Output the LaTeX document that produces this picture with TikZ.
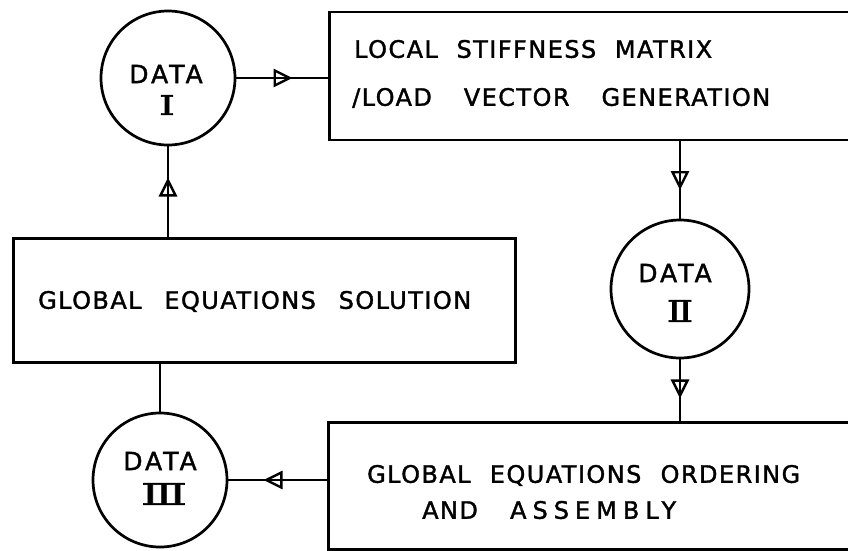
\documentclass[tikz,border=0pt]{standalone}
\usepackage{fontspec}
\usepackage{graphicx}
\newfontfamily\handfont{DejaVu Sans}[LetterSpace=6,FakeBold=1.5]
\newfontfamily\handwide{DejaVu Sans}[LetterSpace=25,FakeBold=1.5]
\newfontfamily\datafont{DejaVu Sans}[LetterSpace=12,FakeBold=1.5]
\newfontfamily\numfont{DejaVu Serif}[FakeBold=1.5]
\usetikzlibrary{shapes.geometric}
\begin{document}
\begin{tikzpicture}[x=1pt,y=-1pt,
  outline/.style={draw,line width=2.7pt},
  boxnode/.style={outline,rectangle,inner sep=0pt,anchor=north west},
  datanode/.style={outline,circle,inner sep=0pt},
  conn/.style={line width=2.3pt},
  headmark/.style={draw,line width=2.4pt,isosceles triangle,isosceles triangle stretches,
      minimum width=15pt,minimum height=15pt,inner sep=0pt,outer sep=0pt,
      sloped,allow upside down},
  txt/.style={inner sep=0pt,anchor=west,text height=17.5pt,text depth=0pt,
      font=\handfont\fontsize{24}{28}\selectfont},
  datalab/.style={inner sep=0pt,text height=18.2pt,text depth=0pt,
      font=\datafont\fontsize{25}{28}\selectfont},
  numlab/.style={inner sep=0pt,font=\numfont\fontsize{28}{30}\selectfont}]
\clip (0,0) rectangle (848,550);
\fill[white] (0,0) rectangle (848,550);
% boxes
\node[boxnode,minimum width=560pt,minimum height=128pt] (box1) at (328,10.5) {};
\node[boxnode,minimum width=502pt,minimum height=124pt] (box2) at (12,237) {};
\node[boxnode,minimum width=560pt,minimum height=127pt] (box3) at (327,421) {};
% circles
\node[datanode,minimum size=134pt] (I) at (168,78) {};
\node[datanode,minimum size=138pt] (II) at (680,289) {};
\node[datanode,minimum size=134pt] (III) at (160,480) {};
% texts
\node[txt] (t1a) at (354,49) {\makebox[358pt][s]{LOCAL STIFFNESS MATRIX}};
\node[txt] (t1b) at (352,97) {\makebox[418pt][s]{/LOAD VECTOR GENERATION}};
\node[txt] (t2) at (38,300) {\makebox[433pt][s]{GLOBAL EQUATIONS SOLUTION}};
\node[txt] (t3a) at (367,474) {\makebox[433pt][s]{GLOBAL EQUATIONS ORDERING}};
\node[txt] (t3b) at (422,510) {\makebox[254pt][s]{AND {\handwide ASSEMBLY}}};
\node[datalab] (d1) at (166,74) {DATA};
\node[numlab] (n1) at (167,105) {\fontsize{27}{28}\selectfont\scalebox{1.5}[1]{Ⅰ}};
\node[datalab] (d2) at (675,273) {DATA};
\node[numlab] (n2) at (680,311) {\fontsize{30}{32}\selectfont\scalebox{1.3}[1]{Ⅱ}};
\node[datalab] (d3) at (160,461) {DATA};
\node[numlab] (n3) at (164,494) {\fontsize{30}{32}\selectfont\scalebox{1.6}[1]{Ⅲ}};
% connectors
\draw[conn] (I.east) -- node[headmark,pos=0.47] (a1) {} (I.east -| box1.west);
\draw[conn] (II.north |- box1.south) -- node[headmark,pos=0.46] (a2) {} (II.north);
\draw[conn] (II.south) -- node[headmark,pos=0.42] (a3) {} (II.south |- box3.north);
\draw[conn] (III.east -| box3.west) -- node[headmark,pos=0.51] (a4) {} (III.east);
\draw[conn] (I.south |- box2.north) -- node[headmark,pos=0.51] (a5) {} (I.south);
\draw[conn] (III.north |- box2.south) -- (III.north);
\end{tikzpicture}
\end{document}
